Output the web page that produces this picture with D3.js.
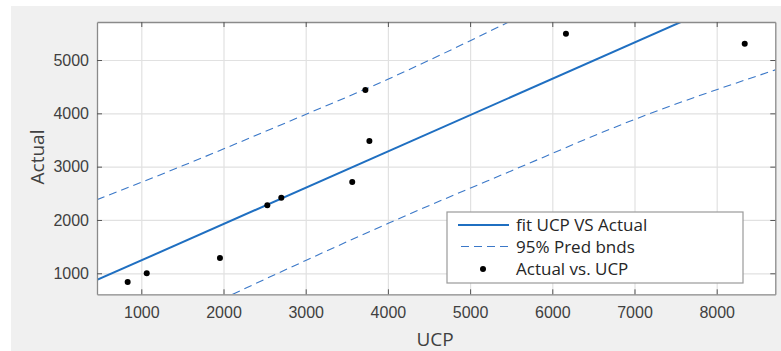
<!DOCTYPE html>
<html>
<head>
<meta charset="utf-8">
<script src="https://cdn.jsdelivr.net/npm/d3@7"></script>
<style>
  html, body { margin: 0; padding: 0; background: #fff; }
  svg { display: block; font-family: "Open Sans", sans-serif; }
</style>
</head>
<body>
<svg id="chart" width="781" height="351"></svg>
<script>
// observed points (UCP, Actual)
const ucp    = [834, 1066, 1957, 2533, 2703, 3566, 3726, 3775, 6166, 8341];
const actual = [837, 1000, 1287, 2276, 2418, 2713, 4437, 3480, 5493, 5306];

// fitted line, two ends
const fitX = [461, 8713];
const fitY = [875, 6495];

// 95% prediction bounds
const upperX = [461, 1500, 2800, 4000, 5470];
const upperY = [2380, 3015, 3850, 4640, 5713];
const lowerX = [2110, 3000, 4005, 5500, 6985, 8713];
const lowerY = [606, 1240, 1938, 2920, 3876, 4815];

const xTicks = [1000, 2000, 3000, 4000, 5000, 6000, 7000, 8000];
const yTicks = [1000, 2000, 3000, 4000, 5000];
const legendLabels = ["fit UCP VS Actual", "95% Pred bnds", "Actual vs. UCP"];

const W = 781, H = 351;
const margin = {top: 22, right: 5.7, bottom: 56.7, left: 97};
const width = W - margin.left - margin.right;
const height = H - margin.top - margin.bottom;

const svg = d3.select("#chart");

// figure background
svg.append("rect")
    .attr("x", 11).attr("y", 6)
    .attr("width", W - 11).attr("height", H - 6)
    .attr("fill", "#f0f0f0");

const g = svg.append("g")
    .attr("transform", `translate(${margin.left},${margin.top})`);

g.append("rect")
    .attr("width", width).attr("height", height)
    .attr("fill", "#fff");

const x = d3.scaleLinear().domain([461, 8713]).range([0, width]);
const y = d3.scaleLinear().domain([606, 5713]).range([height, 0]);

// grid
g.append("g")
    .attr("transform", `translate(0,${height})`)
    .call(d3.axisBottom(x).tickValues(xTicks).tickSize(-height).tickFormat(""))
    .call(a => a.select(".domain").remove())
    .call(a => a.selectAll("line").attr("stroke", "#e1e1e1").attr("stroke-width", 1.2));
g.append("g")
    .call(d3.axisLeft(y).tickValues(yTicks).tickSize(-width).tickFormat(""))
    .call(a => a.select(".domain").remove())
    .call(a => a.selectAll("line").attr("stroke", "#e1e1e1").attr("stroke-width", 1.2));

g.append("clipPath").attr("id", "clip")
    .append("rect").attr("width", width).attr("height", height);

const plot = g.append("g").attr("clip-path", "url(#clip)");

const line = d3.line().x(d => x(d[0])).y(d => y(d[1]));
const curve = d3.line().curve(d3.curveMonotoneX).x(d => x(d[0])).y(d => y(d[1]));

plot.append("path")
    .datum(d3.zip(upperX, upperY))
    .attr("d", curve)
    .attr("fill", "none")
    .attr("stroke", "#3b78c8")
    .attr("stroke-width", 1.1)
    .attr("stroke-dasharray", "8,5");

plot.append("path")
    .datum(d3.zip(lowerX, lowerY))
    .attr("d", curve)
    .attr("fill", "none")
    .attr("stroke", "#3b78c8")
    .attr("stroke-width", 1.1)
    .attr("stroke-dasharray", "8,5");

plot.append("path")
    .datum(d3.zip(fitX, fitY))
    .attr("d", line)
    .attr("fill", "none")
    .attr("stroke", "#1f6fc1")
    .attr("stroke-width", 2);

plot.selectAll(".pt")
    .data(d3.zip(ucp, actual))
    .enter()
    .append("circle")
    .attr("class", "pt")
    .attr("cx", d => x(d[0]))
    .attr("cy", d => y(d[1]))
    .attr("r", 3)
    .attr("fill", "#000");

// axes (ticks inward, box on)
const styleAxis = a => {
    a.select(".domain").attr("stroke", "#8a8a8a").attr("stroke-width", 1.3);
    a.selectAll(".tick line").attr("stroke", "#555");
    a.selectAll("text").attr("fill", "#404040").style("font-size", "16px");
};

g.append("g")
    .attr("transform", `translate(0,${height})`)
    .call(d3.axisBottom(x).tickValues(xTicks).tickFormat(d3.format("d"))
        .tickSizeInner(-5).tickSizeOuter(0).tickPadding(12))
    .call(styleAxis);
g.append("g")
    .call(d3.axisLeft(y).tickValues(yTicks).tickFormat(d3.format("d"))
        .tickSizeInner(-5).tickSizeOuter(0).tickPadding(8))
    .call(styleAxis);
g.append("g")
    .call(d3.axisTop(x).tickValues(xTicks).tickSizeInner(-5).tickSizeOuter(0).tickFormat(""))
    .call(styleAxis);
g.append("g")
    .attr("transform", `translate(${width},0)`)
    .call(d3.axisRight(y).tickValues(yTicks).tickSizeInner(-5).tickSizeOuter(0).tickFormat(""))
    .call(styleAxis);

// axis labels
svg.append("text")
    .attr("x", 435).attr("y", 346)
    .attr("text-anchor", "middle")
    .attr("fill", "#404040")
    .style("font-size", "19px")
    .text("UCP");

svg.append("text")
    .attr("transform", "translate(44,157) rotate(-90)")
    .attr("text-anchor", "middle")
    .attr("fill", "#404040")
    .style("font-size", "19px")
    .text("Actual");

// legend
const lg = svg.append("g").attr("transform", "translate(447,212)");
lg.append("rect")
    .attr("width", 296).attr("height", 71)
    .attr("fill", "#fff")
    .attr("stroke", "#9a9a9a")
    .attr("stroke-width", 1.2);

const rowY = [13, 34.5, 57];
lg.append("line")
    .attr("x1", 11).attr("x2", 62).attr("y1", rowY[0]).attr("y2", rowY[0])
    .attr("stroke", "#1f6fc1").attr("stroke-width", 2);
lg.append("line")
    .attr("x1", 11).attr("x2", 62).attr("y1", rowY[1]).attr("y2", rowY[1])
    .attr("stroke", "#3b78c8").attr("stroke-width", 1.1)
    .attr("stroke-dasharray", "8,5").attr("stroke-dashoffset", -3);
lg.append("circle")
    .attr("cx", 36).attr("cy", rowY[2]).attr("r", 3).attr("fill", "#000");

lg.selectAll(".lt")
    .data(legendLabels)
    .enter()
    .append("text")
    .attr("class", "lt")
    .attr("x", 69)
    .attr("y", (d, i) => rowY[i])
    .attr("dy", "0.36em")
    .attr("fill", "#262626")
    .style("font-size", "17px")
    .text(d => d);
</script>
</body>
</html>
